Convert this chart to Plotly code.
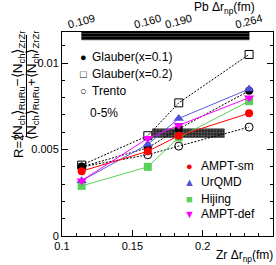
import plotly.graph_objects as go

# ---------------- data ----------------
zr_drnp = [0.114, 0.161, 0.183, 0.233]
pb_drnp_labels = ["0.109", "0.160", "0.190", "0.264"]

glauber_x01 = [0.0040, 0.0051, 0.0062, 0.0084]
glauber_x02 = [0.0041, 0.0058, 0.0077, 0.0105]
trento = [0.0040, 0.0047, 0.0052, 0.0063]
ampt_sm = [0.00375, 0.0049, 0.0058, 0.0071]
urqmd = [0.0032, 0.0053, 0.0068, 0.0085]
hijing = [0.0029, 0.0040, 0.0057, 0.0078]
ampt_def = [0.0032, 0.00565, 0.0064, 0.0080]

band_x = [0.1643, 0.2154]
band_y = [0.0057, 0.0062]
top_band_y = [0.01135, 0.0118]

x_range = [0.1, 0.25]
y_range = [0, 0.0118]

FONT = "Liberation Sans, Arial, sans-serif"

# ---------------- figure ----------------
W, H = 276, 265
ML, MR, MT, MB = 62, 3, 32, 29
PW, PH = W - ML - MR, H - MT - MB


def px(p):  # pixel x -> paper
    return (p - ML) / PW


def py(p):  # pixel y -> paper
    return (H - MB - p) / PH


fig = go.Figure()

# top hatched band (Pb axis range)
fig.add_trace(go.Scatter(
    x=[zr_drnp[0], zr_drnp[-1], zr_drnp[-1], zr_drnp[0], zr_drnp[0]],
    y=[top_band_y[0], top_band_y[0], top_band_y[1], top_band_y[1], top_band_y[0]],
    xaxis="x2", mode="lines", line=dict(width=0.6, color="black"),
    fill="toself", fillcolor="black",
    fillpattern=dict(shape="-", bgcolor="black", fgcolor="#9a9a9a", size=3, solidity=0.25),
    hoverinfo="skip", showlegend=False))

# middle hatched band
fig.add_trace(go.Scatter(
    x=[band_x[0], band_x[1], band_x[1], band_x[0], band_x[0]],
    y=[band_y[0], band_y[0], band_y[1], band_y[1], band_y[0]],
    mode="lines", line=dict(width=0.5, color="#222"),
    fill="toself", fillcolor="#333",
    fillpattern=dict(shape="+", bgcolor="#2a2a2a", fgcolor="#a0a0a0", size=3, solidity=0.3),
    hoverinfo="skip", showlegend=False))

dash = "2px,1.5px"
series = [
    ("Glauber(x=0.1)", glauber_x01, "black", dict(symbol="circle", size=8, color="black"), dash),
    ("Glauber(x=0.2)", glauber_x02, "black", dict(symbol="square-open", size=8, color="black", line=dict(width=1)), dash),
    ("Trento", trento, "black", dict(symbol="circle-open", size=8, color="black", line=dict(width=1)), dash),
    ("Hijing", hijing, "#5ad25a", dict(symbol="square", size=8, color="#5ad25a"), "solid"),
    ("UrQMD", urqmd, "#5a5ae6", dict(symbol="triangle-up", size=9, color="#5050d8"), "solid"),
    ("AMPT-sm", ampt_sm, "#ff0000", dict(symbol="circle", size=8, color="#ff0000"), "solid"),
    ("AMPT-def", ampt_def, "#ff00ff", dict(symbol="triangle-down", size=9, color="#ff00ff"), "solid"),
]
for name, ys, lc, mk, ds in series:
    fig.add_trace(go.Scatter(
        x=zr_drnp, y=ys, name=name, mode="lines+markers",
        line=dict(color=lc, width=1, dash=ds), marker=mk, showlegend=False))

axis_common = dict(
    showgrid=False, zeroline=False, showline=True, linecolor="black", linewidth=1,
    ticks="inside", tickcolor="black", tickwidth=1, automargin=False,
    tickfont=dict(family=FONT, size=11, color="black"),
)
fig.update_layout(
    width=W, height=H,
    margin=dict(l=ML, r=MR, t=MT, b=MB),
    plot_bgcolor="white", paper_bgcolor="white",
    font=dict(family=FONT, size=11, color="black"),
    xaxis=dict(range=x_range, dtick=0.05, tick0=0.1, ticklen=6, mirror=True,
               minor=dict(ticks="inside", ticklen=3, dtick=0.01, tick0=0.1, tickcolor="black"),
               **axis_common),
    xaxis2=dict(range=x_range, overlaying="x", side="top", tickvals=zr_drnp,
                ticktext=pb_drnp_labels, tickangle=-15, ticks="", showline=False,
                showgrid=False, zeroline=False, automargin=False, ticklabelshift=-14,
                tickfont=dict(family=FONT, size=11, color="black")),
    yaxis=dict(range=y_range, dtick=0.005, ticklen=6, mirror="ticks",
               minor=dict(ticks="inside", ticklen=3, dtick=0.001, tickcolor="black"),
               **axis_common),
)

ann = []


def A(**kw):
    d = dict(xref="paper", yref="paper", showarrow=False)
    d.update(kw)
    ann.append(d)


# axis titles
A(text="Zr Δr<sub>np</sub>(fm)", x=px(275), y=py(256), xanchor="right", yanchor="middle", font=dict(size=12))
A(text="Pb Δr<sub>np</sub>(fm)", x=px(257), y=py(8), xanchor="right", yanchor="middle", font=dict(size=12))
# y title as fraction
A(text="R=2", x=px(18), y=py(146), textangle=-90, font=dict(size=13), xanchor="center", yanchor="middle")
A(text="⟨N<sub>ch</sub>⟩<sub>RuRu</sub>−⟨N<sub>ch</sub>⟩<sub>ZrZr</sub>",
  x=px(19), y=py(86), textangle=-90, font=dict(size=13.5), xanchor="center", yanchor="middle")
A(text="⟨N<sub>ch</sub>⟩<sub>RuRu</sub>+⟨N<sub>ch</sub>⟩<sub>ZrZr</sub>",
  x=px(33), y=py(86), textangle=-90, font=dict(size=13.5), xanchor="center", yanchor="middle")

# legends (glyph + label)
leg1 = [("●", "black", "Glauber(x=0.1)", 57), ("□", "black", "Glauber(x=0.2)", 74), ("○", "black", "Trento", 91)]
for g, c, t, yy in leg1:
    A(text=g, x=px(83), y=py(yy), xanchor="center", yanchor="middle", font=dict(size=11, color=c))
    A(text=t, x=px(90), y=py(yy), xanchor="left", yanchor="middle", font=dict(size=12))
A(text="0-5%", x=px(88), y=py(113), xanchor="left", yanchor="middle", font=dict(size=12))
leg2 = [("●", "#ff0000", "AMPT-sm", 166), ("▲", "#5050d8", "UrQMD", 182), ("■", "#5ad25a", "Hijing", 199),
        ("▼", "#ff00ff", "AMPT-def", 214)]
for g, c, t, yy in leg2:
    A(text=g, x=px(189), y=py(yy), xanchor="center", yanchor="middle", font=dict(size=11, color=c))
    A(text=t, x=px(199), y=py(yy), xanchor="left", yanchor="middle", font=dict(size=12))

fig.update_layout(annotations=ann,
                  shapes=[dict(type="line", xref="paper", yref="paper", x0=px(26.5), x1=px(26.5),
                               y0=py(35), y1=py(137), line=dict(color="black", width=1))])

# remove the default 8px page margin so the figure sits at the window origin
fig.write_html("out.html", config={"displayModeBar": False},
               post_script="document.body.style.margin='0';")
